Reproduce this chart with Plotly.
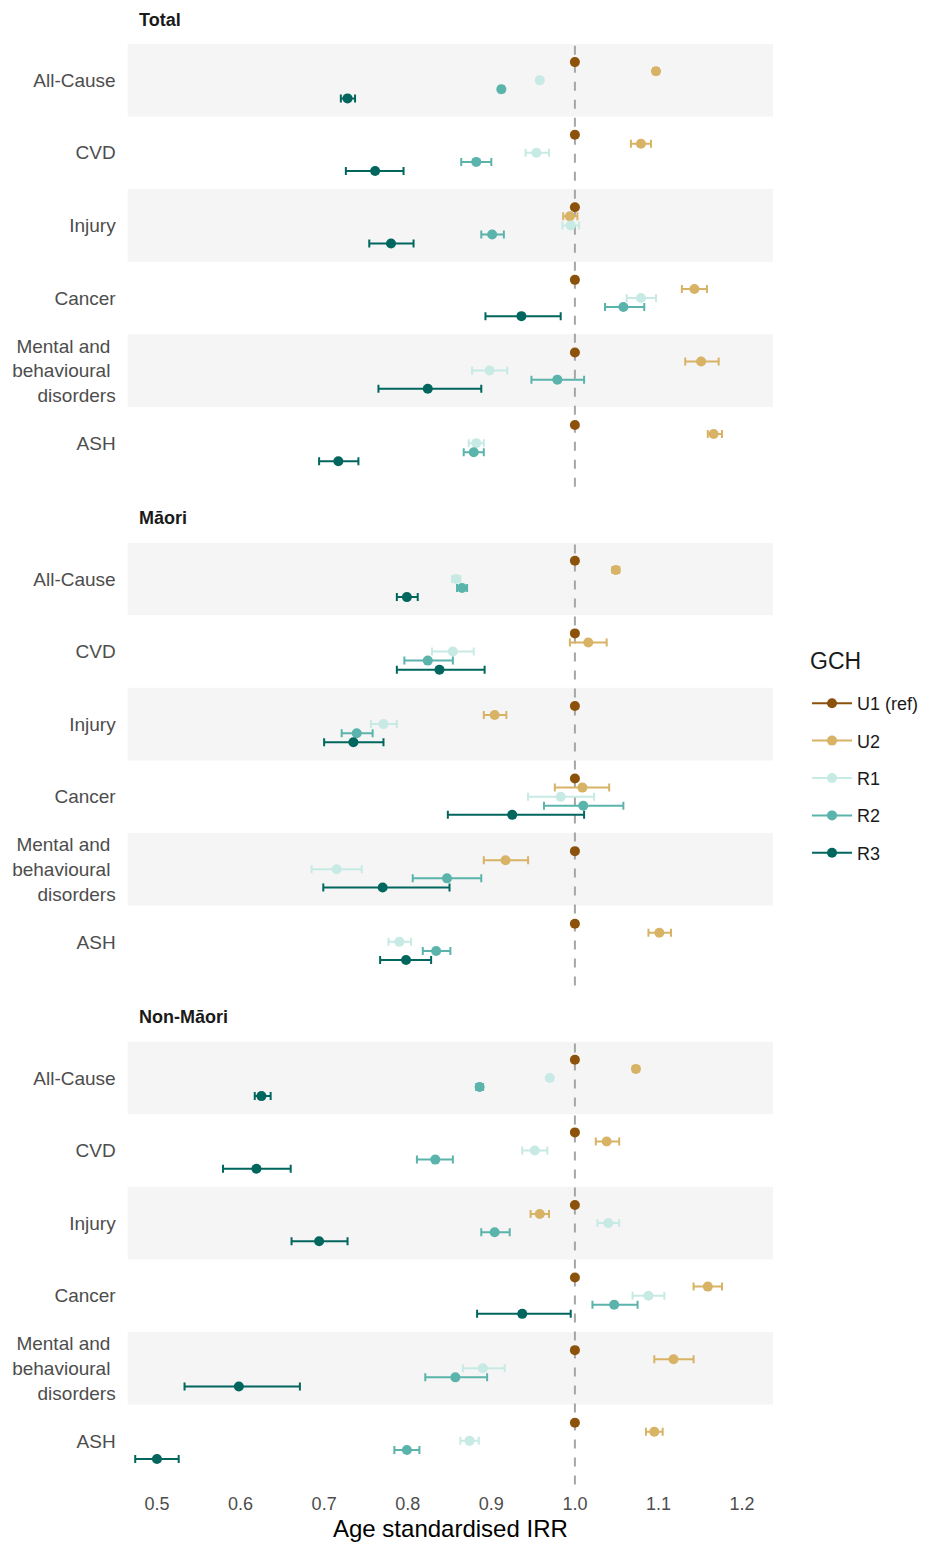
import plotly.graph_objects as go

# Causes of death / hospitalisation (top to bottom within each panel)
causes = ["All-Cause", "CVD", "Injury", "Cancer",
          "Mental and\u00a0<br>behavioural\u00a0<br>disorders", "ASH"]
groups = ["U1 (ref)", "U2", "R1", "R2", "R3"]
colours = ["#8C510A", "#D8B365", "#C7EAE5", "#5AB4AC", "#01665E"]
panels = ["Total", "Māori", "Non-Māori"]

x_ticks = [0.5, 0.6, 0.7, 0.8, 0.9, 1.0, 1.1, 1.2]

# Each entry: (IRR, lower 95% CI, upper 95% CI), one per cause
ref_u1 = [(1.0, 1.0, 1.0)] * 6

total_u2 = [(1.097, 1.094, 1.100), (1.079, 1.067, 1.091), (0.994, 0.986, 1.003),
            (1.143, 1.128, 1.158), (1.151, 1.132, 1.172), (1.166, 1.159, 1.176)]
total_r1 = [(0.958, 0.955, 0.961), (0.954, 0.941, 0.969), (0.995, 0.985, 1.005),
            (1.079, 1.062, 1.097), (0.898, 0.877, 0.919), (0.882, 0.873, 0.891)]
total_r2 = [(0.912, 0.909, 0.915), (0.882, 0.864, 0.900), (0.901, 0.888, 0.915),
            (1.058, 1.036, 1.083), (0.979, 0.948, 1.011), (0.879, 0.867, 0.891)]
total_r3 = [(0.728, 0.720, 0.737), (0.761, 0.726, 0.795), (0.780, 0.754, 0.807),
            (0.936, 0.893, 0.983), (0.824, 0.765, 0.888), (0.717, 0.694, 0.741)]

maori_u2 = [(1.049, 1.045, 1.053), (1.016, 0.994, 1.038), (0.904, 0.891, 0.918),
            (1.009, 0.976, 1.041), (0.917, 0.891, 0.944), (1.101, 1.088, 1.115)]
maori_r1 = [(0.858, 0.853, 0.863), (0.854, 0.829, 0.879), (0.771, 0.756, 0.787),
            (0.983, 0.944, 1.023), (0.715, 0.685, 0.745), (0.790, 0.777, 0.804)]
maori_r2 = [(0.865, 0.859, 0.871), (0.824, 0.796, 0.854), (0.739, 0.721, 0.758),
            (1.010, 0.963, 1.058), (0.847, 0.806, 0.888), (0.834, 0.818, 0.851)]
maori_r3 = [(0.799, 0.787, 0.812), (0.838, 0.787, 0.892), (0.735, 0.700, 0.771),
            (0.925, 0.848, 1.011), (0.770, 0.699, 0.850), (0.798, 0.767, 0.828)]

nonmaori_u2 = [(1.073, 1.070, 1.076), (1.038, 1.025, 1.053), (0.958, 0.947, 0.969),
               (1.159, 1.142, 1.176), (1.118, 1.095, 1.142), (1.095, 1.085, 1.105)]
nonmaori_r1 = [(0.970, 0.967, 0.973), (0.952, 0.937, 0.967), (1.040, 1.027, 1.053),
               (1.088, 1.069, 1.107), (0.890, 0.866, 0.916), (0.874, 0.863, 0.885)]
nonmaori_r2 = [(0.886, 0.882, 0.890), (0.833, 0.811, 0.854), (0.904, 0.888, 0.922),
               (1.047, 1.021, 1.075), (0.857, 0.821, 0.895), (0.799, 0.784, 0.814)]
nonmaori_r3 = [(0.625, 0.617, 0.636), (0.619, 0.579, 0.660), (0.694, 0.661, 0.728),
               (0.937, 0.883, 0.995), (0.598, 0.533, 0.671), (0.500, 0.474, 0.526)]

panel_data = [
    [ref_u1, total_u2, total_r1, total_r2, total_r3],
    [ref_u1, maori_u2, maori_r1, maori_r2, maori_r3],
    [ref_u1, nonmaori_u2, nonmaori_r1, nonmaori_r2, nonmaori_r3],
]

FONT = "Liberation Sans, Arial, Helvetica, sans-serif"
W, H = 926, 1542
x_dom = [127.7 / W, 773.0 / W]
# vertical pixel extents (top, bottom) of each panel
panel_px = [(36.7, 486.7), (535.4, 985.4), (1034.4, 1484.4)]
title_px = [20, 518, 1017]
dodge = [-0.25, -0.125, 0.0, 0.125, 0.25]

fig = go.Figure()
shapes = []
annotations = []
layout_axes = {}

for p, series in enumerate(panel_data):
    sfx = "" if p == 0 else str(p + 1)
    xname, yname = "x" + sfx, "y" + sfx
    for g, rows in enumerate(series):
        irr = [r[0] for r in rows]
        lo = [r[0] - r[1] for r in rows]
        hi = [r[2] - r[0] for r in rows]
        ypos = [i + dodge[g] for i in range(len(causes))]
        has_ci = g > 0
        fig.add_trace(go.Scatter(
            x=irr, y=ypos, xaxis=xname, yaxis=yname,
            mode="markers",
            marker=dict(color=colours[g], size=10),
            error_x=dict(type="data", symmetric=False, array=hi, arrayminus=lo,
                         color=colours[g], thickness=2, width=4,
                         visible=has_ci),
            name=groups[g], legendgroup=groups[g], showlegend=False,
            hovertemplate="%{x:.3f}<extra>" + groups[g] + "</extra>",
        ))

    top, bot = panel_px[p]
    y_dom = [1 - bot / H, 1 - top / H]
    last = p == len(panel_data) - 1
    layout_axes["xaxis" + sfx] = dict(
        domain=x_dom, anchor=yname, range=[0.465, 1.237],
        showgrid=False, zeroline=False, showline=False, ticks="",
        tickvals=x_ticks, ticktext=[f"{v:.1f}" for v in x_ticks],
        showticklabels=last, ticklabelstandoff=7,
        tickfont=dict(family=FONT, size=18, color="#4D4D4D"),
        automargin=False,
    )
    layout_axes["yaxis" + sfx] = dict(
        domain=y_dom, anchor=xname, range=[len(causes) - 0.4, -0.6],
        showgrid=False, zeroline=False, showline=False, ticks="",
        tickvals=list(range(len(causes))), ticktext=causes,
        ticklabelstandoff=11,
        tickfont=dict(family=FONT, size=19, color="#4D4D4D"),
        automargin=False,
    )
    # alternating shaded bands behind each cause
    for i in range(0, len(causes), 2):
        shapes.append(dict(type="rect", xref=xname + " domain", yref=yname,
                           x0=0, x1=1, y0=i - 0.5, y1=i + 0.5,
                           fillcolor="#F5F5F5", line=dict(width=0), layer="below"))
    # reference line at IRR = 1
    shapes.append(dict(type="line", xref=xname, yref=yname + " domain",
                       x0=1.0, x1=1.0, y0=0, y1=1,
                       line=dict(color="#A6A6A6", width=2, dash="dash"),
                       layer="below"))
    annotations.append(dict(text="<b>" + panels[p] + "</b>", xref="paper", yref="paper",
                            x=137 / W, y=1 - title_px[p] / H, xanchor="left",
                            yanchor="middle", showarrow=False,
                            font=dict(family=FONT, size=18, color="#1A1A1A")))

# x-axis title under the bottom panel
annotations.append(dict(text="Age standardised IRR", xref="paper", yref="paper",
                        x=(127.7 + 773.0) / 2 / W, y=1 - 1528 / H,
                        xanchor="center", yanchor="middle", showarrow=False,
                        font=dict(family=FONT, size=24, color="#000000")))

# legend heading
annotations.append(dict(text="GCH", xref="paper", yref="paper",
                        x=808 / W, y=1 - 661 / H, xanchor="left", yanchor="middle",
                        showarrow=False,
                        font=dict(family=FONT, size=23, color="#1A1A1A")))

# legend entries (point + line key)
for g, name in enumerate(groups):
    fig.add_trace(go.Scatter(
        x=[None], y=[None], mode="lines+markers", name=name, legendgroup=name,
        line=dict(color=colours[g], width=2), marker=dict(color=colours[g], size=10),
        showlegend=True,
    ))

fig.update_layout(
    width=W, height=H,
    margin=dict(l=0, r=0, t=0, b=0),
    paper_bgcolor="white", plot_bgcolor="white",
    font=dict(family=FONT, color="#1A1A1A"),
    shapes=shapes, annotations=annotations,
    legend=dict(
        x=807 / W, xanchor="left", y=1 - 778 / H, yanchor="middle",
        font=dict(family=FONT, size=18, color="#1A1A1A"),
        traceorder="grouped", tracegroupgap=11, itemwidth=40,
        bgcolor="rgba(0,0,0,0)",
    ),
    **layout_axes,
)

fig.write_html("out.html")
